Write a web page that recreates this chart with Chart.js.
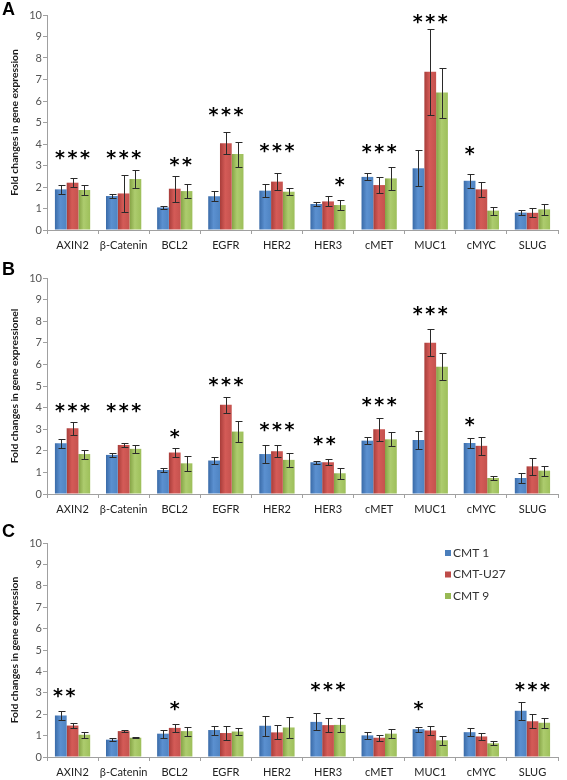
<!DOCTYPE html>
<html><head><meta charset="utf-8">
<script src="https://cdn.jsdelivr.net/npm/chart.js@4"></script>
<style>
html,body{margin:0;padding:0;background:#fff;width:567px;height:780px;overflow:hidden;}
.p{position:absolute;left:0;width:567px;}
.lbl{position:absolute;left:2px;font:bold 18px "Liberation Sans",Arial,sans-serif;line-height:18px;color:#000;}
</style></head><body>
<div class="p" style="top:0px;height:263px"><canvas id="cA" width="567" height="263"></canvas></div>
<div class="p" style="top:263px;height:265px"><canvas id="cB" width="567" height="265"></canvas></div>
<div class="p" style="top:528px;height:252px"><canvas id="cC" width="567" height="252"></canvas></div>
<div class="lbl" style="top:0px">A</div>
<div class="lbl" style="top:260px">B</div>
<div class="lbl" style="top:522px">C</div>
<script>
const categories = ['AXIN2','β-Catenin','BCL2','EGFR','HER2','HER3','cMET','MUC1','cMYC','SLUG'];
const seriesNames = ['CMT 1','CMT-U27','CMT 9'];
const yTicks = [0,1,2,3,4,5,6,7,8,9,10];

// Panel A
const aCMT1   = [1.89,1.58,1.05,1.57,1.83,1.21,2.47,2.87,2.29,0.81];
const aCMTU27 = [2.20,1.70,1.92,4.03,2.25,1.33,2.09,7.36,1.89,0.80];
const aCMT9   = [1.86,2.37,1.81,3.53,1.78,1.16,2.40,6.39,0.90,0.96];
const aErr1   = [0.20,0.09,0.06,0.23,0.31,0.09,0.16,0.84,0.32,0.13];
const aErr2   = [0.20,0.84,0.60,0.51,0.41,0.23,0.36,2.00,0.34,0.21];
const aErr3   = [0.23,0.43,0.31,0.58,0.17,0.22,0.54,1.16,0.18,0.26];
const aStars  = [3,3,2,3,3,1,3,3,1,0];
const aStarY  = [3.49,3.49,3.15,5.5,3.8,2.25,3.77,9.8,3.69,0];
const aStarPos= [0,0,0.5,0,0,1,0,0,-1,0];

// Panel B
const bCMT1   = [2.35,1.81,1.11,1.55,1.85,1.47,2.47,2.50,2.36,0.74];
const bCMTU27 = [3.04,2.27,1.92,4.13,1.98,1.47,3.00,7.00,2.23,1.28];
const bCMT9   = [1.85,2.09,1.42,2.89,1.58,0.96,2.53,5.89,0.74,1.08];
const bErr1   = [0.20,0.08,0.10,0.15,0.41,0.08,0.15,0.41,0.21,0.22];
const bErr2   = [0.31,0.08,0.21,0.36,0.29,0.15,0.54,0.63,0.42,0.39];
const bErr3   = [0.21,0.19,0.35,0.48,0.34,0.26,0.33,0.63,0.08,0.23];
const bStars  = [3,3,1,3,3,2,3,3,1,0];
const bStarY  = [4.0,4.0,2.8,5.2,3.1,2.47,4.28,8.49,3.35,0];
const bStarPos= [0,0,0,0,0,-0.3,0,0,-1,0];

// Panel C
const cCMT1   = [1.94,0.81,1.09,1.26,1.46,1.64,1.01,1.30,1.16,2.16];
const cCMTU27 = [1.47,1.21,1.36,1.12,1.15,1.49,0.90,1.24,0.96,1.67];
const cCMT9   = [1.04,0.90,1.21,1.19,1.38,1.50,1.09,0.78,0.64,1.60];
const cErr1   = [0.21,0.08,0.19,0.21,0.47,0.40,0.16,0.12,0.20,0.41];
const cErr2   = [0.13,0.03,0.19,0.31,0.33,0.34,0.13,0.22,0.15,0.33];
const cErr3   = [0.14,0.02,0.21,0.17,0.51,0.33,0.20,0.22,0.09,0.23];
const cStars  = [2,0,1,0,0,3,0,1,0,3];
const cStarY  = [2.98,0,2.36,0,0,3.26,0,2.36,0,3.26];
const cStarPos= [-0.7,0,0,0,0,0,0,-1,0,0];

const colors = ['#4A7EBB','#BE4B48','#98B954'];
const shades = [
  ['#3A6BA8','#5B90D0','#4F84C2'],
  ['#A83D3A','#D45B57','#C5524E'],
  ['#84A244','#ADCC6E','#9DBF5A']
];
const axisColor = '#A0A0A0';

const barShading = {
  id:'barShading',
  beforeDatasetsDraw(chart){
    const ctx = chart.ctx;
    chart.data.datasets.forEach((ds, i) => {
      chart.getDatasetMeta(i).data.forEach(el => {
        const l = el.x - el.width / 2, r = el.x + el.width / 2;
        const g = ctx.createLinearGradient(l, 0, r, 0);
        g.addColorStop(0, shades[i][0]);
        g.addColorStop(0.45, shades[i][1]);
        g.addColorStop(1, shades[i][2]);
        el.options = Object.assign({}, el.options, {backgroundColor:g});
      });
    });
  }
};

const errorBars = {
  id:'errorBars',
  afterDatasetsDraw(chart, args, opts){
    const ctx = chart.ctx, ys = chart.scales.y;
    ctx.save();
    ctx.strokeStyle = '#2a2a2a'; ctx.lineWidth = 1;
    chart.data.datasets.forEach((ds, i) => {
      const meta = chart.getDatasetMeta(i);
      meta.data.forEach((el, j) => {
        const v = ds.data[j], e = opts.errs[i][j];
        const x = Math.round(el.x) + 0.5;
        const yt = Math.round(ys.getPixelForValue(v + e)) + 0.5;
        const yb = Math.round(ys.getPixelForValue(Math.max(0, v - e))) + 0.5;
        ctx.beginPath();
        ctx.moveTo(x, yt); ctx.lineTo(x, yb);
        ctx.moveTo(x - 3, yt); ctx.lineTo(x + 4, yt);
        ctx.moveTo(x - 3, yb); ctx.lineTo(x + 4, yb);
        ctx.stroke();
      });
    });
    ctx.restore();
  }
};

const starMarks = {
  id:'starMarks',
  afterDatasetsDraw(chart, args, opts){
    const ctx = chart.ctx, xs = chart.scales.x, ys = chart.scales.y;
    const bw = chart.getDatasetMeta(0).data[0].width;
    ctx.save();
    ctx.fillStyle = '#000';
    ctx.font = 'bold 19px "DejaVu Sans"';
    ctx.textAlign = 'center';
    ctx.textBaseline = 'alphabetic';
    const m = ctx.measureText('*');
    const off = (m.actualBoundingBoxAscent - m.actualBoundingBoxDescent) / 2;
    opts.stars.forEach((n, j) => {
      if (!n) return;
      const cx = xs.getPixelForValue(j) + opts.pos[j] * bw;
      const cy = ys.getPixelForValue(opts.y[j]);
      for (let k = 0; k < n; k++) {
        const x = cx + (k - (n - 1) / 2) * 12.5;
        ctx.fillText('*', x, cy + off);
      }
    });
    ctx.restore();
  }
};

const boxLegend = {
  id:'boxLegend',
  afterDraw(chart, args, opts){
    if (!opts.show) return;
    const ctx = chart.ctx, ca = chart.chartArea;
    ctx.save();
    ctx.font = '12px Lato';
    ctx.textBaseline = 'middle';
    ctx.textAlign = 'left';
    chart.data.datasets.forEach((ds, i) => {
      const y = ca.top + 10 + i * 21.5;
      const x = ca.left + 398;
      ctx.fillStyle = colors[i];
      ctx.fillRect(x, y - 3, 6, 6);
      ctx.fillStyle = '#333';
      ctx.fillText(ds.label, x + 8, y);
    });
    ctx.restore();
  }
};

function makeChart(id, d, errs, stars, starY, starPos, yTitle, xHeight, legend) {
  new Chart(document.getElementById(id), {
    type:'bar',
    data:{
      labels:categories,
      datasets:d.map((vals, i) => ({
        label:seriesNames[i], data:vals,
        backgroundColor:colors[i], borderWidth:0
      }))
    },
    options:{
      responsive:false, animation:false, devicePixelRatio:1,
      layout:{padding:{top:15,right:9,left:0,bottom:0}},
      datasets:{bar:{barPercentage:1, categoryPercentage:0.69}},
      plugins:{
        legend:{display:false}, tooltip:{enabled:false},
        errorBars:{errs:errs},
        starMarks:{stars:stars, y:starY, pos:starPos},
        boxLegend:{show:legend}
      },
      scales:{
        x:{
          grid:{offset:true, drawOnChartArea:false, tickLength:4, color:axisColor},
          border:{color:axisColor},
          ticks:{font:{family:'Lato', size:11}, color:'#222', padding:5, maxRotation:0, autoSkip:false},
          afterFit(s){ s.height = xHeight; }
        },
        y:{
          min:0, max:10,
          afterBuildTicks(s){ s.ticks = yTicks.map(v => ({value:v})); },
          ticks:{font:{family:'Lato', size:11}, color:'#555', padding:1},
          grid:{drawOnChartArea:false, tickLength:4, color:axisColor},
          border:{color:axisColor},
          title:{display:true, text:yTitle, font:{family:'Lato', weight:'bold', size:10.3}, color:'#1a1a1a', padding:{top:8,bottom:0}},
          afterFit(s){ s.width = 47; }
        }
      }
    },
    plugins:[barShading, errorBars, starMarks, boxLegend]
  });
}

makeChart('cA', [aCMT1,aCMTU27,aCMT9], [aErr1,aErr2,aErr3], aStars, aStarY, aStarPos, 'Fold changes in gene expression', 33, false);
makeChart('cB', [bCMT1,bCMTU27,bCMT9], [bErr1,bErr2,bErr3], bStars, bStarY, bStarPos, 'Fold changes in gene expressionel', 34, false);
makeChart('cC', [cCMT1,cCMTU27,cCMT9], [cErr1,cErr2,cErr3], cStars, cStarY, cStarPos, 'Fold changes in gene expression', 23, true);
</script>
</body></html>
